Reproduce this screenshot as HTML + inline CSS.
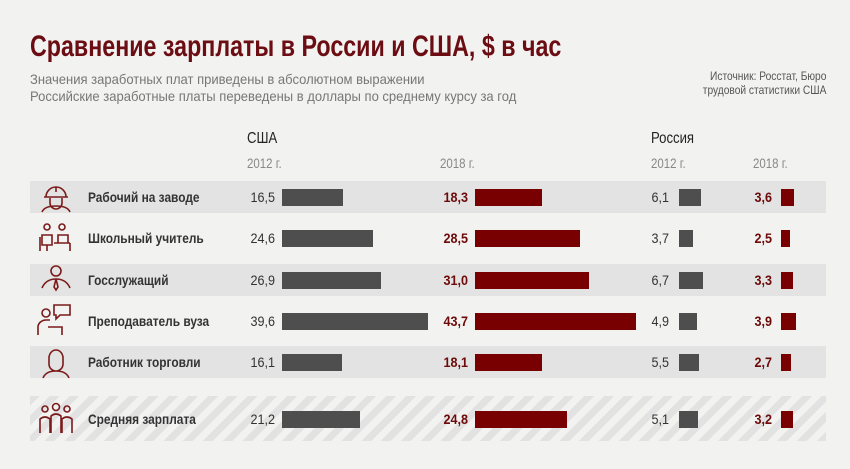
<!DOCTYPE html>
<html><head><meta charset="utf-8"><style>
body{margin:0;width:850px;height:469px;background:#f2f2f1;font-family:"Liberation Sans",sans-serif;position:relative;overflow:hidden}
.a{position:absolute;white-space:nowrap}
.n{transform-origin:0 0;transform:scaleX(.82)}
.r{transform-origin:100% 0;transform:scaleX(.85)}
.band{position:absolute;left:30px;width:796px;height:32px;background:#e3e3e3}
.bar{position:absolute;height:17px}
.g{background:#4e4e4e}.d{background:#780000}
.lbl{position:absolute;left:88px;font-size:14px;font-weight:bold;color:#333;transform-origin:0 0;transform:scaleX(.85)}
.v{position:absolute;font-size:14px;color:#333;text-align:right;width:40px;transform-origin:100% 0;transform:scaleX(.9)}
.v.red{color:#6d0a0a;font-weight:bold}
</style></head><body>
<div class="a" style="left:30px;top:30px;font-size:30px;font-weight:bold;color:#6b0d12;transform-origin:0 0;transform:scaleX(.775)">Сравнение зарплаты в России и США, $ в час</div>
<div class="a" style="left:30px;top:71px;font-size:14px;color:#777;line-height:17px;transform-origin:0 0;transform:scaleX(.93)">Значения заработных плат приведены в абсолютном выражении<br>Российские заработные платы переведены в доллары по среднему курсу за год</div>
<div class="a r" style="right:24px;top:69px;font-size:12px;color:#555;text-align:right;line-height:14px">Источник: Росстат, Бюро<br>трудовой статистики США</div>
<div class="a n" style="left:247px;top:130px;font-size:16px;color:#222">США</div>
<div class="a n" style="left:651px;top:130px;font-size:16px;color:#222">Россия</div>
<div class="a n" style="left:247px;top:155px;font-size:14px;color:#888">2012 г.</div>
<div class="a n" style="left:440px;top:155px;font-size:14px;color:#888">2018 г.</div>
<div class="a n" style="left:651px;top:155px;font-size:14px;color:#888">2012 г.</div>
<div class="a n" style="left:753px;top:155px;font-size:14px;color:#888">2018 г.</div>
<div class="band" style="top:181px"></div>
<div class="band" style="top:264px"></div>
<div class="band" style="top:346px"></div>
<div class="band" style="top:396px;height:45px;background:repeating-linear-gradient(135deg,#e2e2e2 0 7px,#f2f2f1 7px 14px)"></div>
<svg class="a" style="left:34px;top:181px" width="44" height="264" fill="none" stroke="#7a1a1a" stroke-width="1.6">
<path d="M12 16a10 10 0 0 1 20 0M10 16h24M16 17v5a6 6 0 0 0 12 0v-5M8 31c2-5 8-6 14-6s12 1 14 6M22 6v5"/>
<g transform="translate(0,42)"><circle cx="13" cy="4" r="3"/><circle cx="28" cy="4" r="3"/><path d="M8 12h10v10H8zM24 12h10v8H24zM6 14v14M13 22v6M36 20v8M20 20h16"/></g>
<g transform="translate(0,83)"><circle cx="22" cy="7" r="5"/><path d="M8 24c3-7 9-9 14-9s11 2 14 9M22 15l-2 8 2 3 2-3z"/></g>
<g transform="translate(0,124)"><circle cx="12" cy="8" r="4"/><path d="M20 0h16v10h-10l-4 4v-4h-2zM4 30v-8c0-4 4-7 8-7h4M14 22h14v8"/></g>
<g transform="translate(0,165)"><path d="M15 12a7 8 0 0 1 14 0v6a7 7 0 0 1-14 0zM9 32c2-5 7-7 13-7s11 2 13 7"/></g>
<g transform="translate(0,222)"><circle cx="11" cy="6" r="3"/><circle cx="22" cy="4" r="3.5"/><circle cx="33" cy="6" r="3"/><path d="M6 30V16q5-4 10 0v14M17 30V13q5-4 10 0v17M28 30V16q5-4 10 0v14"/></g>
</svg>
<div class="lbl" style="top:189px">Рабочий на заводе</div>
<div class="lbl" style="top:230px">Школьный учитель</div>
<div class="lbl" style="top:272px">Госслужащий</div>
<div class="lbl" style="top:313px">Преподаватель вуза</div>
<div class="lbl" style="top:354px">Работник торговли</div>
<div class="lbl" style="top:411px">Средняя зарплата</div>

<div class="v" style="left:235px;top:189px">16,5</div><div class="bar g" style="left:282px;top:189px;width:61px"></div>
<div class="v red" style="left:428px;top:189px">18,3</div><div class="bar d" style="left:475px;top:189px;width:67px"></div>
<div class="v" style="left:629px;top:189px">6,1</div><div class="bar g" style="left:679px;top:189px;width:22px"></div>
<div class="v red" style="left:732px;top:189px">3,6</div><div class="bar d" style="left:781px;top:189px;width:13px"></div>

<div class="v" style="left:235px;top:230px">24,6</div><div class="bar g" style="left:282px;top:230px;width:91px"></div>
<div class="v red" style="left:428px;top:230px">28,5</div><div class="bar d" style="left:475px;top:230px;width:105px"></div>
<div class="v" style="left:629px;top:230px">3,7</div><div class="bar g" style="left:679px;top:230px;width:14px"></div>
<div class="v red" style="left:732px;top:230px">2,5</div><div class="bar d" style="left:781px;top:230px;width:9px"></div>

<div class="v" style="left:235px;top:272px">26,9</div><div class="bar g" style="left:282px;top:272px;width:99px"></div>
<div class="v red" style="left:428px;top:272px">31,0</div><div class="bar d" style="left:475px;top:272px;width:114px"></div>
<div class="v" style="left:629px;top:272px">6,7</div><div class="bar g" style="left:679px;top:272px;width:24px"></div>
<div class="v red" style="left:732px;top:272px">3,3</div><div class="bar d" style="left:781px;top:272px;width:12px"></div>

<div class="v" style="left:235px;top:313px">39,6</div><div class="bar g" style="left:282px;top:313px;width:146px"></div>
<div class="v red" style="left:428px;top:313px">43,7</div><div class="bar d" style="left:475px;top:313px;width:161px"></div>
<div class="v" style="left:629px;top:313px">4,9</div><div class="bar g" style="left:679px;top:313px;width:18px"></div>
<div class="v red" style="left:732px;top:313px">3,9</div><div class="bar d" style="left:781px;top:313px;width:15px"></div>

<div class="v" style="left:235px;top:354px">16,1</div><div class="bar g" style="left:282px;top:354px;width:60px"></div>
<div class="v red" style="left:428px;top:354px">18,1</div><div class="bar d" style="left:475px;top:354px;width:67px"></div>
<div class="v" style="left:629px;top:354px">5,5</div><div class="bar g" style="left:679px;top:354px;width:20px"></div>
<div class="v red" style="left:732px;top:354px">2,7</div><div class="bar d" style="left:781px;top:354px;width:10px"></div>

<div class="v" style="left:235px;top:411px">21,2</div><div class="bar g" style="left:282px;top:411px;width:78px"></div>
<div class="v red" style="left:428px;top:411px">24,8</div><div class="bar d" style="left:475px;top:411px;width:92px"></div>
<div class="v" style="left:629px;top:411px">5,1</div><div class="bar g" style="left:679px;top:411px;width:19px"></div>
<div class="v red" style="left:732px;top:411px">3,2</div><div class="bar d" style="left:781px;top:411px;width:12px"></div>
</body></html>
